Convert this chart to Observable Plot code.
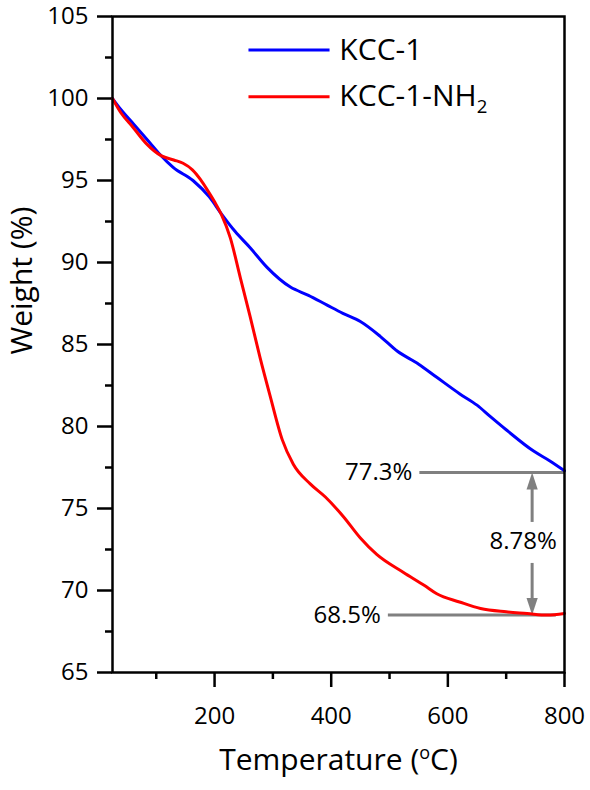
<!DOCTYPE html>
<html><head><meta charset="utf-8">
<script src="https://cdn.jsdelivr.net/npm/d3@7"></script>
<script src="https://cdn.jsdelivr.net/npm/@observablehq/plot@0.6"></script>
<style>
body{margin:0;background:#fff;}
#chart{width:590px;height:790px;}
</style>
</head><body><div id="chart"></div>
<script>
// ---- data ----
const tempKCC1 =   [25, 40, 61, 89, 106, 129, 163, 191, 212, 235, 261, 290, 330, 361, 393, 420, 450, 484, 513, 550, 581, 620, 650, 673, 700, 747, 775, 800];
const weightKCC1 = [100.0, 99.3, 98.45, 97.3, 96.6, 95.8, 95.0, 94.0, 92.95, 91.9, 90.9, 89.7, 88.5, 88.0, 87.4, 86.9, 86.4, 85.5, 84.6, 83.8, 83.0, 82.0, 81.3, 80.6, 79.8, 78.5, 77.9, 77.3];
const tempNH2 =   [25, 40, 60, 83, 109, 130, 146, 162, 176, 188, 200, 212, 227, 244, 261, 278, 295, 316, 335, 364, 390, 421, 450, 478, 524, 560, 581, 620, 656, 700, 736, 770, 800];
const weightNH2 = [100.0, 99.1, 98.25, 97.25, 96.5, 96.25, 96.05, 95.65, 95.05, 94.4, 93.7, 92.9, 91.5, 89.1, 86.7, 84.2, 81.9, 79.2, 77.7, 76.5, 75.7, 74.5, 73.2, 72.2, 71.1, 70.3, 69.8, 69.3, 68.9, 68.7, 68.6, 68.5, 68.6];
const seriesNames = ["KCC-1", "KCC-1-NH2"];
const seriesColors = ["#0000ff", "#ff0000"];
const yTicks = [65, 70, 75, 80, 85, 90, 95, 100, 105];
const yMinorTicks = [67.5, 72.5, 77.5, 82.5, 87.5, 92.5, 97.5, 102.5];
const xTicks = [200, 400, 600, 800];
const xMinorTicks = [100, 300, 500, 700];
const residueLabels = ["77.3%", "68.5%"];
const residueLevels = [77.2, 68.5];
const differenceLabel = ["8.78%"];

// ---- layout (positions, not data) ----
const residueLineStart = [552, 498];
const residueLineEnd = [800, 786];
const residueLabelRight = [539, 485];
const arrowT = 744.5;
const arrowShafts = [{y1: 74.15, y2: 76.6}, {y1: 71.65, y2: 69.2}];
const arrowHeads = [{y: residueLevels[0], rot: 0}, {y: residueLevels[1], rot: 180}];
const diffPos = {t: 729, w: 73.0};
const legendLine = {t1: 259, t2: 398, tText: 414};
const legendLevels = [102.95, 100.1];

const gray = "#808080";
const font = "Open Sans";

const rows = [
  ...tempKCC1.map((t, i) => ({series: seriesNames[0], t, w: weightKCC1[i]})),
  ...tempNH2.map((t, i) => ({series: seriesNames[1], t, w: weightNH2[i]}))
];
const residues = residueLabels.map((label, i) => ({label, w: residueLevels[i], t1: residueLineStart[i], t2: residueLineEnd[i], tl: residueLabelRight[i]}));
const legendRows = seriesNames.map((name, i) => ({name, color: seriesColors[i], w: legendLevels[i]}));

const triangleHead = {
  draw(context, l) {
    const hw = l * 0.33;
    context.moveTo(0, -l);
    context.lineTo(hw, 0);
    context.lineTo(-hw, 0);
    context.closePath();
  }
};

const chart = Plot.plot({
  width: 590,
  height: 790,
  marginLeft: 112,
  marginRight: 26,
  marginTop: 16,
  marginBottom: 118,
  style: {fontFamily: font, background: "#fff", color: "#000", overflow: "visible"},
  x: {domain: [25, 800]},
  y: {domain: [65, 105]},
  color: {domain: seriesNames, range: seriesColors},
  marks: [
    Plot.axisY(yTicks, {tickSize: 15, tickPadding: 9, fontSize: 24, strokeWidth: 2.5, label: null}),
    Plot.axisY(yMinorTicks, {tickSize: 7, strokeWidth: 2.5, tickFormat: () => "", label: null}),
    Plot.axisX(xTicks, {tickSize: 15, tickPadding: 19, fontSize: 24, strokeWidth: 2.5, label: null}),
    Plot.axisX(xMinorTicks, {tickSize: 7, strokeWidth: 2.5, tickFormat: () => "", label: null}),
    Plot.text(["Weight (%)"], {frameAnchor: "left", dx: -90, dy: 10, rotate: -90, fontSize: 30, lineAnchor: "middle", fill: "#000"}),
    Plot.text(["Temperature (oC)"], {frameAnchor: "bottom", dy: 88, fontSize: 30, lineAnchor: "middle", fill: "#000"}),
    // annotations
    Plot.ruleY(residues, {y: "w", x1: "t1", x2: "t2", stroke: gray, strokeWidth: 3}),
    Plot.text(residues, {x: "tl", y: "w", text: "label", textAnchor: "end", lineAnchor: "middle", fontSize: 24, fill: "#000"}),
    Plot.ruleX(arrowShafts, {x: () => arrowT, y1: "y1", y2: "y2", stroke: gray, strokeWidth: 3}),
    Plot.vector(arrowHeads, {x: () => arrowT, y: "y", rotate: "rot", length: 17, anchor: "end", shape: triangleHead, fill: gray, stroke: "none"}),
    Plot.text(differenceLabel, {x: () => diffPos.t, y: () => diffPos.w, text: d => d, fontSize: 24, lineAnchor: "middle", fill: "#000"}),
    // data
    Plot.line(rows, {x: "t", y: "w", z: "series", stroke: "series", strokeWidth: 3, curve: "monotone-x"}),
    // legend
    Plot.ruleY(legendRows, {y: "w", x1: () => legendLine.t1, x2: () => legendLine.t2, stroke: "color", strokeWidth: 3}),
    Plot.text(legendRows, {x: () => legendLine.tText, y: "w", text: "name", textAnchor: "start", lineAnchor: "middle", fontSize: 30, fill: "#000"}),
    Plot.frame({stroke: "#000", strokeWidth: 2.5})
  ]
});

// sub/superscripts
const ns = "http://www.w3.org/2000/svg";
chart.querySelectorAll("text").forEach(t => {
  const s = t.textContent;
  if (s === "KCC-1-NH2") {
    t.textContent = "KCC-1-NH";
    const sub = document.createElementNS(ns, "tspan");
    sub.setAttribute("dy", "0.35em");
    sub.setAttribute("font-size", "0.62em");
    sub.textContent = "2";
    t.appendChild(sub);
  } else if (s === "Temperature (oC)") {
    t.textContent = "Temperature (";
    const sup = document.createElementNS(ns, "tspan");
    sup.setAttribute("dy", "-0.6em");
    sup.setAttribute("font-size", "0.6em");
    sup.textContent = "o";
    const rest = document.createElementNS(ns, "tspan");
    rest.setAttribute("dy", "0.36em");
    rest.textContent = "C)";
    t.appendChild(sup);
    t.appendChild(rest);
  }
});
document.getElementById("chart").appendChild(chart);
</script>
</body></html>
